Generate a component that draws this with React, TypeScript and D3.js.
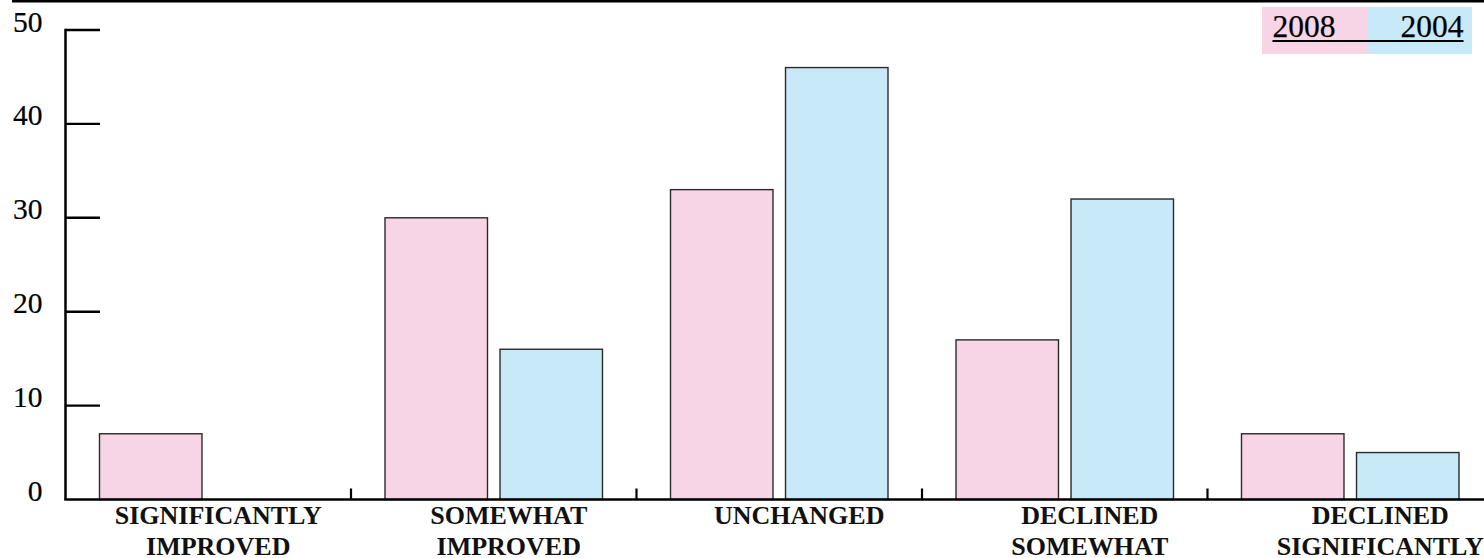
import React from "react";
import * as d3 from "d3";

// Categories of change, in display order
const categories = [
  "SIGNIFICANTLY IMPROVED",
  "SOMEWHAT IMPROVED",
  "UNCHANGED",
  "DECLINED SOMEWHAT",
  "DECLINED SIGNIFICANTLY",
];

// Survey years (series)
const years = ["2008", "2004"];

// Percentages per category
const values2008 = [7, 30, 33, 17, 7];
const values2004 = [0, 16, 46, 32, 5];

// Y axis tick labels
const yTicks = [0, 10, 20, 30, 40, 50];

const seriesValues: Record<string, number[]> = {
  "2008": values2008,
  "2004": values2004,
};

const colors: Record<string, string> = {
  "2008": "#F8D5E6",
  "2004": "#C7E9F8",
};

const W = 1484;
const H = 558;
const SERIF = "'Liberation Serif', 'Times New Roman', serif";

export default function App() {
  const axisX = 65.5;
  const y = d3.scaleLinear().domain([0, 50]).range([499.5, 30]);

  // category bands along the baseline
  const x0 = d3
    .scaleBand<string>()
    .domain(categories)
    .range([axisX, axisX + 5 * 285.5])
    .paddingInner(0)
    .paddingOuter(0);

  // bars within a band
  const x1 = d3
    .scaleBand<string>()
    .domain(years)
    .range([34, x0.bandwidth() - 34])
    .paddingInner(0.109);

  // label placement under each category
  const xl = d3
    .scaleBand<string>()
    .domain(categories)
    .range([73, 73 + 5 * 290.5]);

  const baseY = y(0);

  return (
    <svg
      width={W}
      height={H}
      style={{ position: "absolute", left: 0, top: 0, display: "block", background: "#fff" }}
    >
      {/* top rule */}
      <line x1={12} x2={W} y1={1.3} y2={1.3} stroke="#000" strokeWidth={2.6} />

      {/* bars */}
      {categories.map((c, i) => (
        <g key={c} transform={`translate(${x0(c)},0)`}>
          {years.map((yr) => {
            const v = seriesValues[yr][i];
            if (v <= 0) return null;
            return (
              <rect
                key={yr}
                x={x1(yr)}
                y={y(v)}
                width={x1.bandwidth()}
                height={baseY - y(v)}
                fill={colors[yr]}
                stroke="#2a2a2a"
                strokeWidth={1.4}
              />
            );
          })}
        </g>
      ))}

      {/* y axis */}
      <line x1={axisX} x2={axisX} y1={y(50) - 1.2} y2={baseY} stroke="#000" strokeWidth={2.5} />
      {yTicks.map((t) => (
        <g key={t}>
          {t > 0 && (
            <line x1={axisX} x2={100} y1={y(t)} y2={y(t)} stroke="#000" strokeWidth={2.4} />
          )}
          <text
            x={42.5}
            y={y(t) + 1.5}
            textAnchor="end"
            fontFamily={SERIF}
            fontSize={29.5}
            fill="#000"
            stroke="#000"
            strokeWidth={0.2}
          >
            {t}
          </text>
        </g>
      ))}

      {/* x axis */}
      <line x1={axisX - 1.2} x2={W} y1={baseY} y2={baseY} stroke="#000" strokeWidth={2.6} />
      {categories.slice(1).map((c) => (
        <line
          key={c}
          x1={x0(c)}
          x2={x0(c)}
          y1={baseY}
          y2={baseY - 11}
          stroke="#000"
          strokeWidth={2.2}
        />
      ))}

      {/* category labels */}
      {categories.map((c) => {
        const cx = (xl(c) as number) + xl.bandwidth() / 2;
        return (
          <text
            key={c}
            x={cx}
            y={524}
            textAnchor="middle"
            fontFamily={SERIF}
            fontWeight="bold"
            fontSize={26}
            fill="#111"
          >
            {c.split(" ").map((w, k) => (
              <tspan key={k} x={cx} dy={k === 0 ? 0 : 30.5}>
                {w}
              </tspan>
            ))}
          </text>
        );
      })}

      {/* legend */}
      <g>
        <rect x={1262} y={7} width={106} height={47} fill={colors["2008"]} />
        <rect x={1368} y={7} width={104} height={47} fill={colors["2004"]} />
        <text
          x={1272.5}
          y={37.3}
          fontFamily={SERIF}
          fontSize={31.5}
          fill="#000"
          stroke="#000"
          strokeWidth={0.25}
        >
          {years[0]}
        </text>
        <text
          x={1463.5}
          y={37.3}
          textAnchor="end"
          fontFamily={SERIF}
          fontSize={31.5}
          fill="#000"
          stroke="#000"
          strokeWidth={0.25}
        >
          {years[1]}
        </text>
        <line x1={1272.5} x2={1463.5} y1={41} y2={41} stroke="#000" strokeWidth={1.8} />
      </g>
    </svg>
  );
}
